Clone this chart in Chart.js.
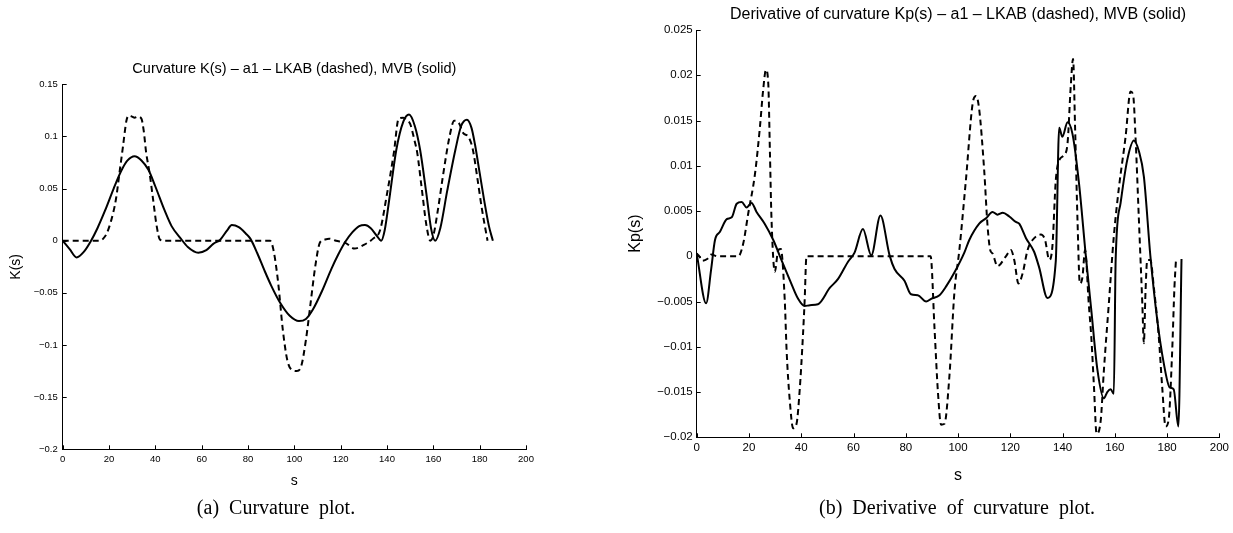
<!DOCTYPE html>
<html>
<head>
<meta charset="utf-8">
<script src="https://cdn.jsdelivr.net/npm/chart.js@4.4.0/dist/chart.umd.min.js"></script>
<style>
  body { margin: 0; background: #fff; width: 1233px; height: 533px; position: relative; overflow: hidden; }
  canvas { position: absolute; top: 0; }
  .cap { position: absolute; top: 495px; height: 24px; line-height: 24px; text-align: center;
         font-family: "Liberation Serif", "Times New Roman", serif; font-size: 20px; color: #000; word-spacing: 5px; }
</style>
</head>
<body>
<canvas id="kChart" width="560" height="533" style="left:0px"></canvas>
<canvas id="kpChart" width="633" height="533" style="left:600px"></canvas>
<div class="cap" style="left:0px;width:552px">(a) Curvature plot.</div>
<div class="cap" style="left:681px;width:552px">(b) Derivative of curvature plot.</div>
<script>
// ---- curvature K(s) ----
const kSolidS = [0, 3, 6, 9, 12, 15, 18.3, 22, 25.5, 28, 31, 34, 37, 40, 44, 47, 51, 54, 58.5, 62, 65, 68, 71, 73, 76, 79, 81, 84, 87, 90, 94, 98, 102, 105, 108, 112, 116, 119, 122, 125, 128, 130.5, 133, 135.5, 137.5, 139, 141, 144, 147, 149.5, 152, 154.3, 157, 159, 160.8, 163, 166, 169.5, 172, 174.5, 176.5, 178, 180, 182, 184, 185.7];
const kSolidV = [0, -0.008, -0.016, -0.011, -0.001, 0.012, 0.029, 0.05, 0.068, 0.077, 0.081, 0.077, 0.068, 0.052, 0.029, 0.014, 0.002, -0.006, -0.0115, -0.009, -0.003, 0.001, 0.01, 0.015, 0.013, 0.007, 0.002, -0.012, -0.028, -0.043, -0.06, -0.072, -0.077, -0.075, -0.066, -0.048, -0.027, -0.013, -0.001, 0.008, 0.014, 0.015, 0.012, 0.005, 0, 0.01, 0.04, 0.087, 0.114, 0.121, 0.11, 0.087, 0.045, 0.012, 0, 0.012, 0.048, 0.087, 0.11, 0.116, 0.108, 0.092, 0.065, 0.038, 0.014, 0];
const kDashS = [0, 10, 16, 17.5, 19, 21, 23, 24.5, 26, 27.5, 28.5, 30, 31, 32.5, 34, 35, 36, 37.5, 39, 40.5, 42, 44, 60, 80, 89.5, 91, 93, 95, 97, 99, 101, 103, 105, 107, 109, 111, 113, 115, 118, 122, 126, 130, 134, 137, 140, 143, 145, 147, 148.5, 150, 152, 153, 155, 157, 158.7, 160, 162, 164, 167, 169, 171, 173, 175, 177, 179, 181, 183.4];
const kDashV = [0, 0, 0, 0.002, 0.007, 0.02, 0.04, 0.065, 0.09, 0.115, 0.12, 0.119, 0.118, 0.119, 0.117, 0.105, 0.085, 0.065, 0.04, 0.015, 0.001, 0, 0, 0, 0, -0.009, -0.04, -0.085, -0.115, -0.124, -0.125, -0.12, -0.095, -0.06, -0.025, -0.002, 0.001, 0.002, 0, -0.002, -0.0075, -0.004, 0.002, 0.01, 0.045, 0.085, 0.117, 0.118, 0.116, 0.112, 0.095, 0.085, 0.05, 0.015, 0, 0.005, 0.03, 0.06, 0.1, 0.115, 0.113, 0.103, 0.1, 0.088, 0.06, 0.03, 0];
const kTicks = [-0.2, -0.15, -0.1, -0.05, 0, 0.05, 0.1, 0.15];
const kTickLabels = ['\u22120.2', '\u22120.15', '\u22120.1', '\u22120.05', '0', '0.05', '0.1', '0.15'];

// ---- derivative of curvature Kp(s) ----
const kpSolidS = [0, 3.6, 5.5, 7, 8.9, 11.5, 13.4, 15.3, 17.2, 19.1, 21, 22.9, 26, 29.3, 32.4, 35.6, 38.8, 41.3, 43.3, 46.4, 50.9, 54.1, 57.9, 60.4, 63.6, 66.8, 70.3, 73.8, 75.7, 79.5, 82, 84.6, 87.8, 89.7, 92.9, 95.5, 98.6, 102.4, 104.3, 108.1, 110.7, 113.2, 115.1, 117.1, 119.6, 122.1, 123.4, 126, 129.1, 131, 134.2, 137.4, 138.7, 139.9, 141.9, 143.8, 146.3, 148.8, 151, 153.3, 155.8, 157.1, 158.4, 159.6, 160.3, 162.2, 164.7, 167.3, 169.2, 171.1, 173.6, 176.2, 178.7, 181, 182.5, 184.3, 185.5];
const kpSolidV = [0.0003, -0.0052, -0.0015, 0.0018, 0.0027, 0.0041, 0.0043, 0.0058, 0.006, 0.0054, 0.0059, 0.0049, 0.0036, 0.0018, -0.0004, -0.0026, -0.0047, -0.0055, -0.0054, -0.0053, -0.0035, -0.0025, -0.0006, 0.0004, 0.003, 0.0001, 0.0045, 0.0001, -0.0014, -0.0027, -0.0042, -0.0043, -0.005, -0.0047, -0.0043, -0.0033, -0.0018, 0.0004, 0.0018, 0.0036, 0.0042, 0.0049, 0.0046, 0.0048, 0.0044, 0.0038, 0.0036, 0.002, 0.0005, -0.0012, -0.0046, -0.0005, 0.0142, 0.0132, 0.0148, 0.0135, 0.008, 0.0003, -0.006, -0.0125, -0.0157, -0.015, -0.0147, -0.0152, -0.0004, 0.0059, 0.0106, 0.0128, 0.0116, 0.0088, 0, -0.007, -0.0118, -0.0145, -0.0147, -0.0188, -0.0003];
const kpDashS = [0, 1, 2, 4, 5.5, 8, 12, 15.9, 17.8, 19.7, 22.3, 24.2, 25.4, 26.5, 27.4, 28, 28.6, 29.9, 31.2, 32.2, 33.7, 34.4, 35.6, 36.9, 38.2, 39.4, 40.7, 41.3, 42, 60, 89.5, 91, 92.3, 93.5, 94.8, 96.7, 98.6, 100.5, 103, 105.6, 106.9, 108.1, 110, 111.3, 112.3, 113.2, 115.1, 118.3, 120.2, 121.5, 123.1, 124.7, 126.6, 128.5, 131.7, 133.3, 134.9, 136.1, 137.4, 138.7, 140.6, 141.9, 143.1, 144, 144.8, 145.7, 146.6, 147.6, 148.6, 150, 151, 152, 153, 154.6, 155.8, 157.7, 159.6, 161.6, 164.1, 166, 167, 167.9, 169.2, 170.5, 171.1, 171.7, 172.4, 173.6, 174.9, 176.8, 178.1, 179.4, 180.6, 181.9, 182.8, 183.4];
const kpDashV = [0.0003, 0, -0.0005, -0.0003, 0.0002, 0, 0, 0, 0.0014, 0.0047, 0.0091, 0.0143, 0.0183, 0.0206, 0.019, 0.0117, 0.0043, -0.0017, 0.0007, 0.0008, -0.0049, -0.0104, -0.0159, -0.019, -0.0185, -0.0148, -0.0085, -0.0049, 0, 0, 0, -0.008, -0.015, -0.0186, -0.0185, -0.0132, -0.004, 0.0007, 0.0084, 0.0169, 0.0177, 0.0162, 0.0095, 0.0033, 0.0007, 0.0003, -0.0011, 0, 0.0007, -0.0004, -0.003, -0.0019, 0.0007, 0.0018, 0.0024, 0.0018, -0.0004, 0.0011, 0.0084, 0.0106, 0.0112, 0.0125, 0.0187, 0.0218, 0.014, 0.004, -0.003, -0.0023, 0.0007, -0.0052, -0.009, -0.0144, -0.0196, -0.0181, -0.0126, -0.0052, 0.0022, 0.0077, 0.0132, 0.0182, 0.0178, 0.0132, 0.004, -0.0052, -0.0096, -0.0041, -0.0004, -0.0004, -0.0034, -0.0089, -0.0144, -0.0188, -0.018, -0.0107, -0.0034, -0.0003];
const kpTicks = [-0.02, -0.015, -0.01, -0.005, 0, 0.005, 0.01, 0.015, 0.02, 0.025];
const kpTickLabels = ['\u22120.02', '\u22120.015', '\u22120.01', '\u22120.005', '0', '0.005', '0.01', '0.015', '0.02', '0.025'];

const sTicks = [0, 20, 40, 60, 80, 100, 120, 140, 160, 180, 200];

const FONT = '"Liberation Sans", Arial, Helvetica, sans-serif';

function pts(xs, ys) { return xs.map((x, i) => ({ x: x, y: ys[i] })); }

// ticks drawn pointing into the plot, like the original figure
const inTicks = {
  id: 'inTicks',
  afterDraw(chart) {
    const { ctx, chartArea: a, scales } = chart;
    ctx.save();
    ctx.strokeStyle = '#000';
    ctx.lineWidth = 1;
    ctx.beginPath();
    scales.x.ticks.forEach(t => {
      const px = Math.round(scales.x.getPixelForValue(t.value)) + 0.5;
      ctx.moveTo(px, a.bottom); ctx.lineTo(px, a.bottom - 4);
    });
    scales.y.ticks.forEach(t => {
      const py = Math.round(scales.y.getPixelForValue(t.value)) + 0.5;
      ctx.moveTo(a.left, py); ctx.lineTo(a.left + 4, py);
    });
    ctx.stroke();
    ctx.restore();
  }
};

function makeChart(id, o) {
  return new Chart(document.getElementById(id), {
    type: 'line',
    data: {
      datasets: [
        { data: pts(o.dashS, o.dashV), borderColor: '#000', borderWidth: 2, borderDash: [6, 4],
          pointRadius: 0, cubicInterpolationMode: 'monotone' },
        { data: pts(o.solidS, o.solidV), borderColor: '#000', borderWidth: 2,
          pointRadius: 0, cubicInterpolationMode: 'monotone' }
      ]
    },
    options: {
      responsive: false,
      animation: false,
      layout: { padding: o.pad },
      plugins: {
        legend: { display: false },
        tooltip: { enabled: false },
        title: { display: true, text: o.title, fullSize: false, color: '#000',
                 font: { family: FONT, size: o.titleSize, weight: 'normal' }, padding: o.titlePad }
      },
      scales: {
        x: {
          type: 'linear', min: 0, max: 200,
          afterBuildTicks: s => { s.ticks = sTicks.map(v => ({ value: v })); },
          afterFit: s => { s.height = o.xh; },
          grid: { display: false, drawTicks: false },
          border: { color: '#000', width: 1 },
          ticks: { color: '#000', padding: 4, maxRotation: 0, font: { family: FONT, size: o.tickSize } },
          title: { display: true, text: 's', color: '#000', padding: 0, font: { family: FONT, size: o.axisSize } }
        },
        y: {
          type: 'linear', min: o.yTicks[0], max: o.yTicks[o.yTicks.length - 1],
          afterBuildTicks: s => { s.ticks = o.yTicks.map(v => ({ value: v })); },
          afterFit: s => { s.width = o.yw; },
          grid: { display: false, drawTicks: false },
          border: { color: '#000', width: 1 },
          ticks: { color: '#000', padding: o.yPad, font: { family: FONT, size: o.tickSize },
                   callback: (v, i) => o.yLabels[i] },
          title: { display: true, text: o.yTitle, color: '#000', padding: 0, font: { family: FONT, size: o.axisSize } }
        }
      }
    },
    plugins: [inTicks]
  });
}

makeChart('kChart', {
  dashS: kDashS, dashV: kDashV, solidS: kSolidS, solidV: kSolidV,
  yTicks: kTicks, yLabels: kTickLabels, yTitle: 'K(s)',
  title: 'Curvature K(s) \u2013 a1 \u2013 LKAB (dashed), MVB (solid)',
  titleSize: 14.5, tickSize: 9.5, axisSize: 14, yPad: 5,
  pad: { left: 7.6, right: 34, top: 0, bottom: 43.6 },
  titlePad: { top: 60.3, bottom: 6.6 },
  xh: 40.1, yw: 55.1
});

makeChart('kpChart', {
  dashS: kpDashS, dashV: kpDashV, solidS: kpSolidS, solidV: kpSolidV,
  yTicks: kpTicks, yLabels: kpTickLabels, yTitle: 'Kp(s)',
  title: 'Derivative of curvature Kp(s) \u2013 a1 \u2013 LKAB (dashed), MVB (solid)',
  titleSize: 16, tickSize: 11.5, axisSize: 16, yPad: 4,
  pad: { left: 26.4, right: 12.3, top: 0, bottom: 47.4 },
  titlePad: { top: 5.4, bottom: 5.4 },
  xh: 48.3, yw: 70.3
});
</script>
</body>
</html>
